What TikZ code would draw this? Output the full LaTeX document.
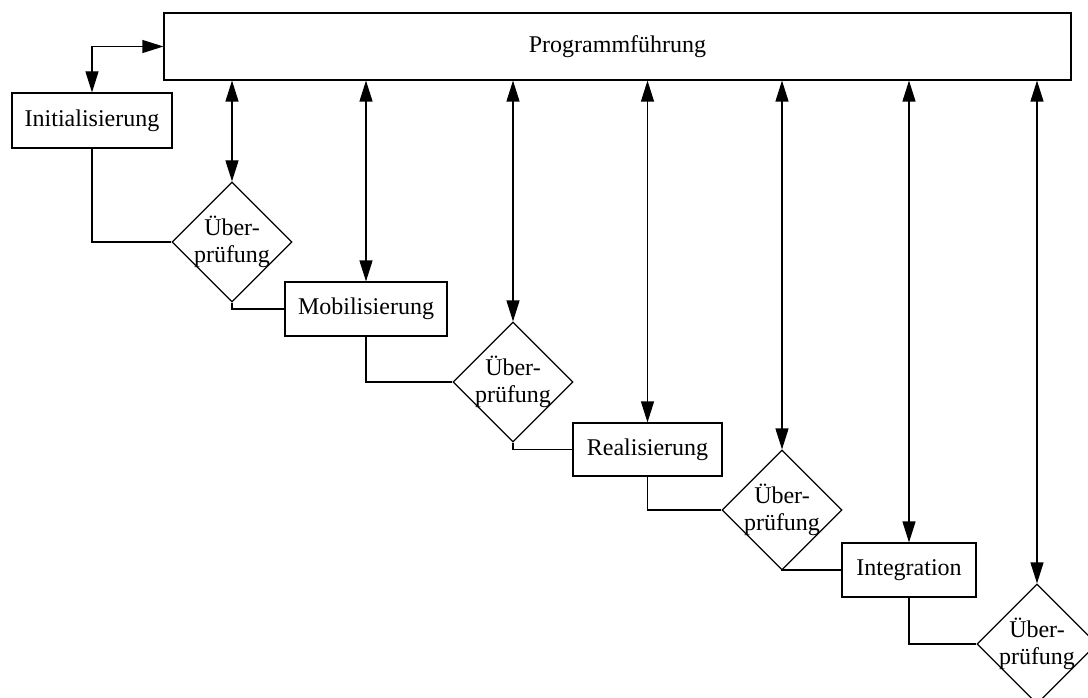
\documentclass[tikz,border=0pt]{standalone}
\usepackage{fontspec}
\setmainfont{Liberation Serif}
\usetikzlibrary{arrows.meta,shapes.geometric}

\begin{document}
\begin{tikzpicture}[x=1pt,y=-1pt,>={Triangle[length=21pt,width=13pt]},line width=1.2pt,
  box/.style={draw,rectangle,inner sep=0pt,font=\fontsize{24}{27}\selectfont},
  check/.style={draw,diamond,aspect=1,inner sep=0pt,minimum width=120pt,minimum height=120pt},
  checktext/.style={align=center,inner sep=0pt,font=\fontsize{24}{27}\selectfont}]
  \clip (0,0) rectangle (1088,698);
  % Programmfuehrung
  \node[box,minimum width=907pt,minimum height=67pt] (prog) at (617.5,46.5) {Programmführung};
  % Phasen
  \node[box,minimum width=160pt,minimum height=55pt] (init) at (92,120.5) {Initialisierung};
  \node[box,minimum width=162pt,minimum height=54pt] (mob) at (366,309) {Mobilisierung};
  \node[box,minimum width=149pt,minimum height=53pt] (real) at (647.5,449.5) {Realisierung};
  \node[box,minimum width=134pt,minimum height=54pt] (int) at (909,570) {Integration};
  % Pruefungen
  \node[check] (d1) at (232,242) {};
  \node[check] (d2) at (513,382) {};
  \node[check] (d3) at (782,510) {};
  \node[check] (d4) at (1037,644) {};
  \foreach \n in {d1,d2,d3,d4}
    \node[checktext] (\n-text) at (\n) {Über-\\prüfung};
  % Ablauf
  \draw[<->] (init.north) |- (prog.west);
  \draw (init.south) |- (d1.west);
  \draw (d1.south) |- (mob.west);
  \draw (mob.south) |- (d2.west);
  \draw (d2.south) |- (real.west);
  \draw (real.south) |- (d3.west);
  \draw (d3.south) |- (int.west);
  \draw (int.south) |- (d4.west);
  % Steuerung
  \foreach \n in {d1,mob,d2,real,d3,int,d4}
    \draw[<->] (\n.north |- prog.south) -- (\n.north);
\end{tikzpicture}
\end{document}
